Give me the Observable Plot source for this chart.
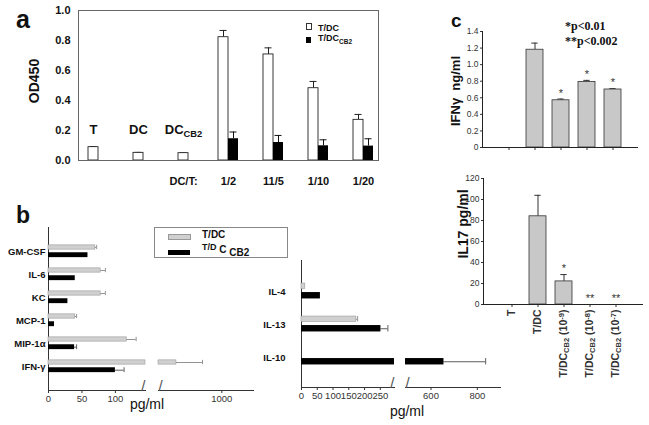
<!DOCTYPE html>
<html><head><meta charset="utf-8">
<script src="https://cdn.jsdelivr.net/npm/d3@7"></script>
<script src="https://cdn.jsdelivr.net/npm/@observablehq/plot@0.6"></script>
<style>
body{margin:0;background:#fff;}
#root{position:relative;width:649px;height:425px;overflow:hidden;background:#fff;font-family:"Liberation Sans",Arial,sans-serif;color:#111;}
.lbl{position:absolute;white-space:nowrap;line-height:1;}
</style></head><body><div id="root"></div><script>
// ---------- Panel a data ----------
const aCategories = ["T","DC","DC_{CB2}","1/2","11/5","1/10","1/20"];
const aTickLabels = ["","","DC/T:","1/2","11/5","1/10","1/20"];
const aSingleLabels = ["T","DC","DC_{CB2}",null,null,null,null];
const aTDC    = [0.089,0.051,0.049,0.822,0.707,0.482,0.271];
const aTDCErr = [0.004,0.003,0.002,0.045,0.044,0.045,0.036];
const aCB2    = [null,null,null,0.145,0.120,0.098,0.096];
const aCB2Err = [null,null,null,0.045,0.047,0.040,0.049];

// ---------- Panel b data ----------
const bLeftCats   = ["GM-CSF","IL-6","KC","MCP-1","MIP-1α","IFN-γ"];
const bLeftTDC    = [70,78,78,40,117,570];
const bLeftTDCErr = [2,7,7,2,14,247];
const bLeftCB2    = [59,40,29,9,39,100];
const bLeftCB2Err = [0,0,0,0,3,13];
const bRightCats   = ["IL-4","IL-13","IL-10"];
const bRightTDC    = [12,174,0];
const bRightTDCErr = [0,4,0];
const bRightCB2    = [60,252,656];
const bRightCB2Err = [0,22,180];
const bLeftTicksA  = [0,50,100];
const bLeftTicksB  = [1000];
const bRightTicksA = [0,50,100,150,200,250];
const bRightTicksB = [600,800];

// ---------- Panel c data ----------
const cCats = ["T","T/DC","T/DC_{CB2} (10^{-9})","T/DC_{CB2} (10^{-8})","T/DC_{CB2} (10^{-7})"];
const cIFNg      = [0,1.18,0.57,0.79,0.70];
const cIFNgErr   = [0,0.08,0.015,0.02,0.01];
const cIFNgStars = ["","","*","*","*"];
const cIL17      = [0,84,22,0,0];
const cIL17Err   = [0,20,6.5,0,0];
const cIL17Stars = ["","","*","**","**"];
const cIFNgTicks = [0,0.2,0.4,0.6,0.8,1.0,1.2,1.4];
const cIL17Ticks = [0,20,40,60,80,100,120];

const SANS = '"Liberation Sans", Arial, sans-serif';
const SERIF = '"Liberation Serif", "Times New Roman", serif';
const root = document.getElementById("root");

function place(svg, x, y){
  svg.style.position="absolute"; svg.style.left=x+"px"; svg.style.top=y+"px";
  svg.style.maxWidth="none"; svg.style.background="transparent"; svg.style.overflow="visible";
  root.appendChild(svg);
}
function rich(svg, boldLetters){
  svg.querySelectorAll("text").forEach(el=>{
    const s = el.textContent;
    if (boldLetters && /[A-Za-z]/.test(s)) el.setAttribute("font-weight","bold");
    if (!/[_^]\{/.test(s)) return;
    const parts = s.split(/([_^]\{[^}]*\})/).filter(p=>p!=="");
    while (el.firstChild) el.removeChild(el.firstChild);
    for (const p of parts){
      const ts = document.createElementNS("http://www.w3.org/2000/svg","tspan");
      const m = p.match(/^([_^])\{([^}]*)\}$/);
      if (m){ ts.textContent=m[2]; ts.setAttribute("font-size","72%"); ts.setAttribute("baseline-shift", m[1]==="_"?"-30%":"40%"); }
      else ts.textContent=p;
      el.appendChild(ts);
    }
  });
}
function label(html, x, y, style, anchor){
  const d=document.createElement("div"); d.className="lbl"; d.innerHTML=html;
  d.style.left=x+"px"; d.style.top=y+"px";
  d.style.transform = anchor==="rot" ? "translate(-50%,-50%) rotate(-90deg)" : anchor==="left" ? "translate(0,-50%)" : anchor==="none" ? "none" : "translate(-50%,-50%)";
  Object.assign(d.style, style||{});
  root.appendChild(d); return d;
}

// ================= Panel a =================
const aRows = aCategories.map((cat,i)=>({cat,label:aSingleLabels[i],tdc:aTDC[i],tdcErr:aTDCErr[i],cb2:aCB2[i],cb2Err:aCB2Err[i]}));
const aSingles = aRows.filter(d=>d.cb2==null);
const aPairs = aRows.filter(d=>d.cb2!=null);
const plotA = Plot.plot({
  width:390, height:200, marginLeft:78, marginRight:12, marginTop:10, marginBottom:40,
  style:{background:"transparent",fontFamily:SANS,fontSize:"11px",fontWeight:"bold",color:"#111"},
  x:{domain:aCategories,paddingInner:0.557,paddingOuter:0.1,tickSize:0,tickPadding:17,tickFormat:d=>aTickLabels[aCategories.indexOf(d)],label:null},
  y:{domain:[0,1],ticks:[0,0.2,0.4,0.6,0.8,1],tickFormat:d3.format(".1f"),tickSize:0,tickPadding:8,label:null},
  marks:[
    Plot.ruleX(aSingles,{x:"cat",y1:"tdc",y2:d=>d.tdc+d.tdcErr,stroke:"#222"}),
    Plot.tickY(aSingles,{x:"cat",y:d=>d.tdc+d.tdcErr,insetLeft:7,insetRight:7,stroke:"#222"}),
    Plot.barY(aSingles,{x:"cat",y:"tdc",fill:"white",stroke:"#222",strokeWidth:0.9,insetLeft:5,insetRight:5}),
    Plot.ruleX(aPairs,{x:"cat",y1:"tdc",y2:d=>d.tdc+d.tdcErr,dx:-5,stroke:"#222"}),
    Plot.tickY(aPairs,{x:"cat",y:d=>d.tdc+d.tdcErr,insetLeft:1.5,insetRight:11.5,stroke:"#222"}),
    Plot.barY(aPairs,{x:"cat",y:"tdc",fill:"white",stroke:"#222",strokeWidth:0.9,insetRight:10}),
    Plot.ruleX(aPairs,{x:"cat",y1:"cb2",y2:d=>d.cb2+d.cb2Err,dx:5,stroke:"#111"}),
    Plot.tickY(aPairs,{x:"cat",y:d=>d.cb2+d.cb2Err,insetLeft:11.5,insetRight:1.5,stroke:"#111"}),
    Plot.barY(aPairs,{x:"cat",y:"cb2",fill:"#000",insetLeft:10}),
    Plot.text(aSingles,{x:"cat",text:"label",frameAnchor:"bottom",dy:-27,fontSize:13}),
    Plot.frame({stroke:"#666"})
  ]
});
rich(plotA); place(plotA,0,0);

// ================= Panel c =================
function cPlot(vals, errs, stars, ticks, yMax, opts){
  const rows = cCats.map((cat,i)=>({cat,v:vals[i],e:errs[i],s:stars[i]}));
  const p = Plot.plot({
    width:opts.width, height:opts.height, marginLeft:opts.mL, marginRight:opts.mR, marginTop:opts.mT, marginBottom:opts.mB,
    style:{background:"transparent",fontFamily:SANS,fontSize:"8.5px",color:"#333"},
    x:{domain:cCats,paddingInner:0.36,paddingOuter:0.68,tickSize:3,tickPadding:2,tickRotate:opts.rot?-90:0,
       tickFormat:opts.labels?(d=>d):(()=>""),label:null},
    y:{domain:[0,yMax],ticks,tickFormat:opts.fmt,tickSize:2,tickPadding:2,label:null},
    marks:[
      Plot.frame({anchor:"left",stroke:"#222"}),
      Plot.ruleX(rows.filter(d=>d.e>0),{x:"cat",y1:"v",y2:d=>d.v+d.e,stroke:"#333"}),
      Plot.tickY(rows.filter(d=>d.e>0),{x:"cat",y:d=>d.v+d.e,insetLeft:5.3,insetRight:5.3,stroke:"#333"}),
      Plot.barY(rows.filter(d=>d.v>0),{x:"cat",y:"v",fill:"#c8c8c8",stroke:"#333",strokeWidth:0.8}),
      Plot.text(rows.filter(d=>d.s),{x:"cat",y:d=>d.v+d.e,text:"s",dy:opts.starDy,fontSize:11,fill:"#333"}),
      Plot.ruleY([0],{stroke:"#222"})
    ]
  });
  return p;
}
const plotC1 = cPlot(cIFNg,cIFNgErr,cIFNgStars,cIFNgTicks,1.4,{width:205,height:160,mL:42,mR:7,mT:31,mB:13,labels:false,starDy:-6,fmt:d=>d===0?"0":d3.format(".1f")(d)});
rich(plotC1); place(plotC1,440,0);
const plotC2 = cPlot(cIL17,cIL17Err,cIL17Stars,cIL17Ticks,120,{width:209,height:265,mL:43,mR:6,mT:18,mB:121,labels:true,rot:true,starDy:-6,fmt:d=>String(d)});
plotC2.querySelectorAll("text").forEach(t=>{ if(/[A-Za-z]/.test(t.textContent)) t.setAttribute("font-size","10.5px"); });
rich(plotC2,true); place(plotC2,440,160);

// ================= Panel b =================
function bSegment(cfg){
  const {cats,gray,grayErr,black,blackErr,domain,ticks,seg,frameH,pI,pO,gSpan,kSpan} = cfg;
  const step = frameH/(cats.length - pI + 2*pO), bw = step*(1-pI);
  const rows = cats.map((cat,i)=>({cat,g:gray[i],ge:grayErr[i],k:black[i],ke:blackErr[i]}));
  const barOk = v => v>0 && (seg==="left" || v>domain[0]);
  const errOk = (v,e) => e>0 && (seg==="left" ? v+e<=domain[1] : v+e>domain[0]);
  const gIn = {insetTop:bw/2+gSpan[0], insetBottom:bw/2-gSpan[1]};
  const kIn = {insetTop:bw/2+kSpan[0], insetBottom:bw/2-kSpan[1]};
  const gMid = (gSpan[0]+gSpan[1])/2, kMid = (kSpan[0]+kSpan[1])/2;
  const marks = [
    Plot.frame({anchor:"bottom",stroke:"#333"}),
    Plot.ruleY(rows.filter(d=>errOk(d.g,d.ge)),{y:"cat",x1:"g",x2:d=>d.g+d.ge,dy:gMid,stroke:"#777",strokeWidth:0.8}),
    Plot.tickX(rows.filter(d=>errOk(d.g,d.ge)),{y:"cat",x:d=>d.g+d.ge,...gIn,stroke:"#777",strokeWidth:0.8}),
    Plot.ruleY(rows.filter(d=>errOk(d.k,d.ke)),{y:"cat",x1:"k",x2:d=>d.k+d.ke,dy:kMid,stroke:"#333",strokeWidth:0.8}),
    Plot.tickX(rows.filter(d=>errOk(d.k,d.ke)),{y:"cat",x:d=>d.k+d.ke,...kIn,stroke:"#333",strokeWidth:0.8}),
    Plot.barX(rows.filter(d=>barOk(d.g)),{y:"cat",x:"g",fill:"#d0d0d0",stroke:"#999",strokeWidth:0.6,...gIn}),
    Plot.barX(rows.filter(d=>barOk(d.k)),{y:"cat",x:"k",fill:"#000",...kIn}),
    Plot.text(["/"],{text:d=>d,frameAnchor:seg==="left"?"bottom-right":"bottom-left",fontSize:15,fill:"#555",fontWeight:"normal"})
  ];
  if (seg==="left") marks.unshift(Plot.frame({anchor:"left",stroke:"#333"}));
  const p = Plot.plot({
    width:cfg.width, height:cfg.height, marginLeft:cfg.mL, marginRight:cfg.mR, marginTop:cfg.mT, marginBottom:cfg.mB,
    style:{background:"transparent",fontFamily:SANS,fontSize:"9.5px",color:"#333"},
    x:{domain,clamp:true,ticks,tickFormat:d=>String(d),tickSize:3,tickPadding:2,label:null},
    y:{domain:cats,paddingInner:pI,paddingOuter:pO,tickSize:0,tickPadding:cfg.yPad||3,axis:seg==="left"?"left":null,label:null},
    marks
  });
  p.querySelectorAll("text").forEach(t=>{ if(/[A-Za-z]/.test(t.textContent)){ t.setAttribute("font-weight","bold"); t.setAttribute("fill","#111"); } });
  return p;
}
const bL = {cats:bLeftCats,gray:bLeftTDC,grayErr:bLeftTDCErr,black:bLeftCB2,blackErr:bLeftCB2Err,frameH:163,pI:0.4,pO:0.66,gSpan:[-6.2,-1.8],kSpan:[1.2,6.2],height:235,mT:37,mB:35};
const pBL1 = bSegment({...bL,seg:"left",domain:[0,145],ticks:bLeftTicksA,width:145,mL:48,mR:0});
place(pBL1,0,190);
const pBL2 = bSegment({...bL,seg:"right",domain:[400,1300],ticks:bLeftTicksB,width:110,mL:8,mR:7});
place(pBL2,150,190);
const bR = {cats:bRightCats,gray:bRightTDC,grayErr:bRightTDCErr,black:bRightCB2,blackErr:bRightCB2Err,frameH:127,pI:0.4,pO:0.596,gSpan:[-8,-2.5],kSpan:[1,7.5],height:235,mT:70,mB:38,yPad:16};
const pBR1 = bSegment({...bR,seg:"left",domain:[0,295],ticks:bRightTicksA,width:139,mL:46,mR:0});
place(pBR1,255,190);
const pBR2 = bSegment({...bR,seg:"right",domain:[490,900],ticks:bRightTicksB,width:105,mL:5,mR:5});
place(pBR2,400,190);

// ================= Overlay texts =================
label("a",16,7,{fontSize:"25px",fontWeight:"bold"},"none");
label("b",16,204,{fontSize:"23px",fontWeight:"bold"},"none");
label("c",451,11,{fontSize:"19px",fontWeight:"bold"},"none");
label("OD450",34,81,{fontSize:"14px",fontWeight:"bold"},"rot");
label("IFNγ&nbsp; ng/ml",455,91,{fontSize:"13px",fontWeight:"bold"},"rot");
label("IL17 pg/ml",463,224,{fontSize:"14px",fontWeight:"bold"},"rot");
label("*p&lt;0.01",565,26,{fontSize:"12px",fontWeight:"bold",fontFamily:SERIF},"left");
label("**p&lt;0.002",565,41,{fontSize:"12px",fontWeight:"bold",fontFamily:SERIF},"left");
label("pg/ml",147,404,{fontSize:"14px"});
label("pg/ml",407,411,{fontSize:"14px"});
// legend a
label('<span style="display:inline-block;width:4px;height:5px;border:1px solid #333;background:#fff"></span>',306,25,{},"left");
label("T/DC",318,28,{fontSize:"9px",fontWeight:"bold"},"left");
label('<span style="display:inline-block;width:5px;height:6px;background:#000"></span>',306,38,{},"left");
label('T/DC<sub style="font-size:6.5px">CB2</sub>',318,40,{fontSize:"9px",fontWeight:"bold"},"left");
// legend b
const box=document.createElement("div");
Object.assign(box.style,{position:"absolute",left:"154px",top:"227px",width:"132px",height:"29px",border:"1px solid #888",background:"#fff"});
root.appendChild(box);
label('<span style="display:inline-block;width:21px;height:4px;border:0.5px solid #999;background:#d0d0d0"></span>',168,235,{},"left");
label("T/DC",202,235,{fontSize:"10px",fontWeight:"bold"},"left");
label('<span style="display:inline-block;width:22px;height:5px;background:#000"></span>',168,250,{},"left");
label('<span style="position:relative;top:-3px;font-size:9px">T/D</span> C <span style="position:relative;top:3px">CB2</span>',202,250,{fontSize:"10px",fontWeight:"bold"},"left");
</script></body></html>
